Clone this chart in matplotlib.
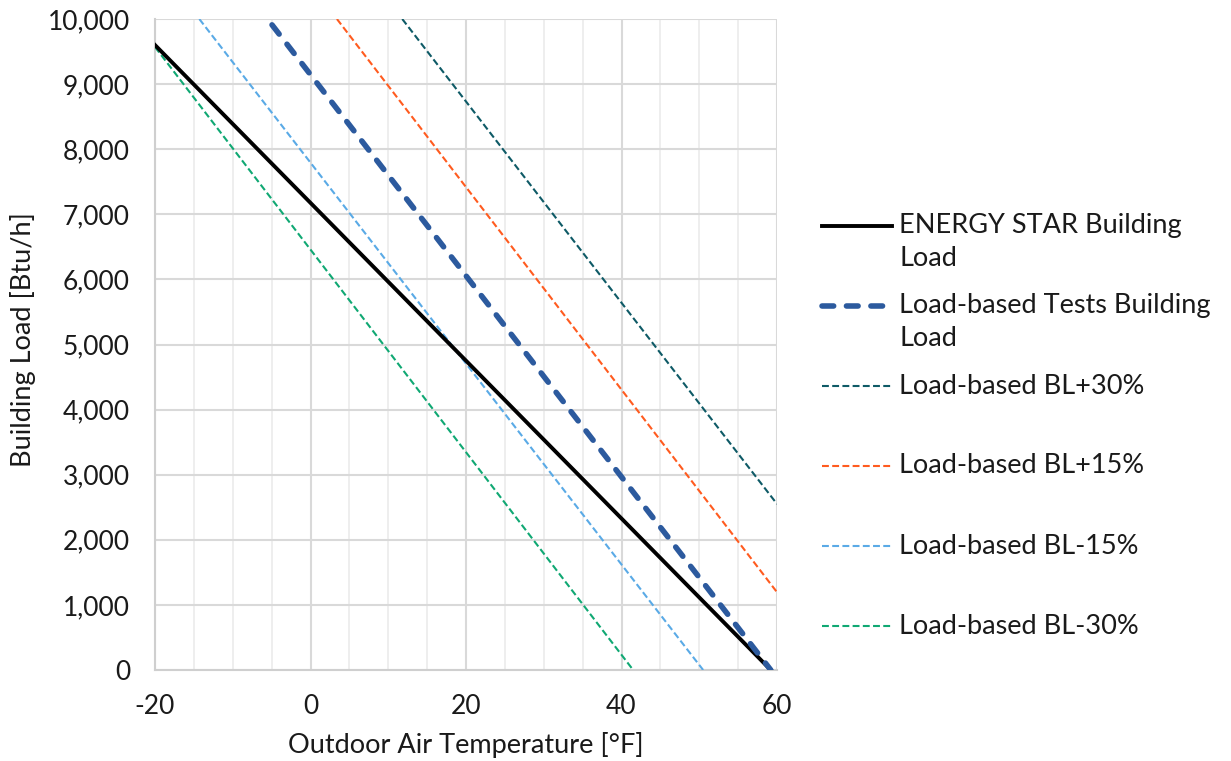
import matplotlib
matplotlib.use("Agg")
import matplotlib.pyplot as plt
from matplotlib.lines import Line2D
from matplotlib.ticker import FuncFormatter, MultipleLocator

plt.rcParams['font.family'] = ['Lato', 'DejaVu Sans']
plt.rcParams['axes.unicode_minus'] = False

# ---- data ----
series_names = ["ENERGY STAR Building\nLoad", "Load-based Tests Building\nLoad",
                "Load-based BL+30%", "Load-based BL+15%", "Load-based BL-15%", "Load-based BL-30%"]
energy_star_t = [-20, 59.2]
energy_star_load = [9600, 0]
lb_tests_t = [-4.95, 59.2]
lb_tests_load = [9910, 0]
bl_p30_t = [11.8, 60]
bl_p30_load = [10000, 2550]
bl_p15_t = [3.4, 60]
bl_p15_load = [10000, 1195]
bl_m15_t = [-14.3, 50.5]
bl_m15_load = [10000, 0]
bl_m30_t = [-20, 41.5]
bl_m30_load = [9570, 0]

xticks = [-20, 0, 20, 40, 60]
yticks = list(range(0, 10001, 1000))

W, H = 1231, 761
fig = plt.figure(figsize=(W / 100, H / 100), dpi=100)
L, R, T, B = 155, 777, 19, 670
ax = fig.add_axes([L / W, 1 - B / H, (R - L) / W, (B - T) / H])

ax.set_xlim(-20, 60)
ax.set_ylim(0, 10000)

# grid
ax.xaxis.set_major_locator(MultipleLocator(20))
ax.xaxis.set_minor_locator(MultipleLocator(5))
ax.yaxis.set_major_locator(MultipleLocator(1000))
ax.grid(which='major', axis='both', color='#D9D9D9', lw=1.5, zorder=0)
ax.grid(which='minor', axis='x', color='#EEEEEE', lw=1.4, zorder=0)
ax.set_axisbelow(True)
for s in ['top', 'right']:
    ax.spines[s].set_visible(False)
for s in ['left', 'bottom']:
    ax.spines[s].set_color('#CFCFCF')
    ax.spines[s].set_linewidth(1.5)
ax.tick_params(which='both', length=0, labelsize=19, colors='#1a1a1a')
ax.tick_params(axis='y', pad=18)
ax.tick_params(axis='x', pad=17)
ax.set_xticks(xticks)
ax.set_yticks(yticks)
ax.yaxis.set_major_formatter(FuncFormatter(lambda v, p: f"{int(v):,}"))

styles = [
    dict(color='black', lw=2.8, ls='-'),
    dict(color='#2C5A9E', lw=4.0, ls=(0, (2.1, 2.3)), dash_capstyle='round'),
    dict(color='#0E5A66', lw=1.5, ls=(0, (3.3, 1.6))),
    dict(color='#FF5B1F', lw=1.5, ls=(0, (3.3, 1.6))),
    dict(color='#5AAAE6', lw=1.5, ls=(0, (3.3, 1.6))),
    dict(color='#10A873', lw=1.5, ls=(0, (3.3, 1.6))),
]
data = [(energy_star_t, energy_star_load), (lb_tests_t, lb_tests_load),
        (bl_p30_t, bl_p30_load), (bl_p15_t, bl_p15_load),
        (bl_m15_t, bl_m15_load), (bl_m30_t, bl_m30_load)]
order = [5, 4, 3, 2, 0, 1]
for i in order:
    t, y = data[i]
    ax.plot(t, y, zorder=3 + (1 if i < 2 else 0), **styles[i])

ax.set_xlabel("Outdoor Air Temperature [°F]", fontsize=19.5, color='#1a1a1a', va='center')
ax.xaxis.set_label_coords((466 - L) / (R - L), (B - 745) / (B - T))
ax.set_ylabel("Building Load [Btu/h]", fontsize=19.5, color='#1a1a1a', va='center')
ax.yaxis.set_label_coords((23 - L) / (R - L), (B - 340) / (B - T))

# manual legend (Excel-like equal spacing)
ys = [226, 306, 386, 466, 546, 626]
for i, yc in enumerate(ys):
    st = dict(styles[i])
    ln = Line2D([822 / W, 892 / W], [1 - yc / H, 1 - yc / H], transform=fig.transFigure, **st)
    fig.add_artist(ln)
    lines = series_names[i].split("\n")
    for k, txt in enumerate(lines):
        fig.text(899 / W, 1 - (yc + 32 * k) / H, txt, fontsize=19.5, color='#1a1a1a',
                 va='center', ha='left')

fig.savefig("out.png", dpi=100)
